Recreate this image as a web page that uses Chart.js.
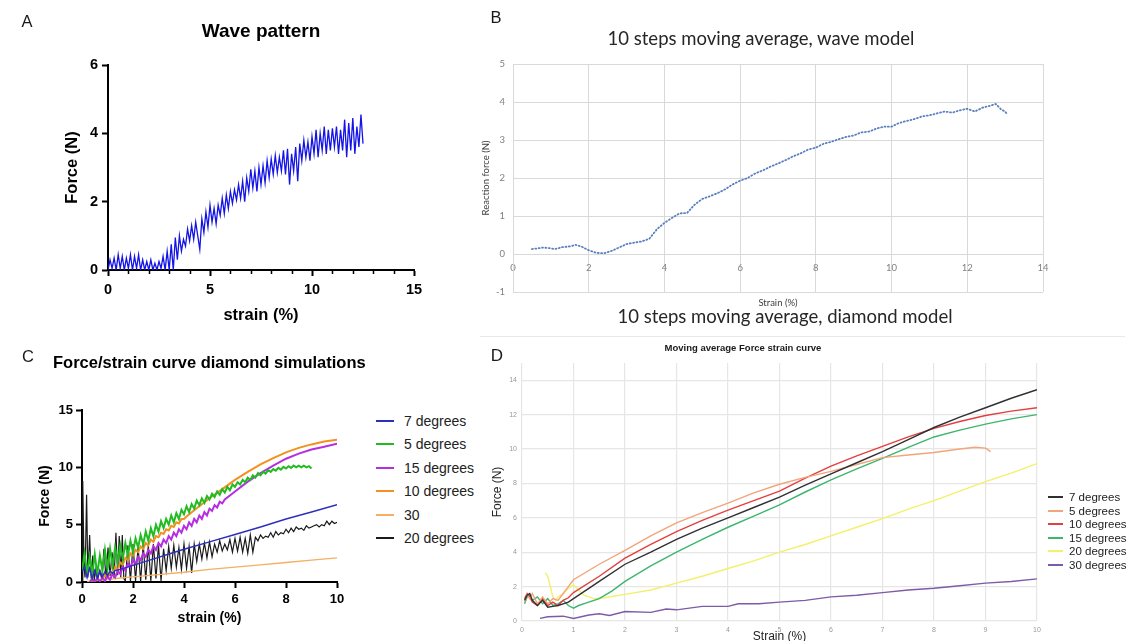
<!DOCTYPE html>
<html>
<head>
<meta charset="utf-8">
<title>Force / strain curves</title>
<script src="https://cdn.jsdelivr.net/npm/chart.js"></script>
<style>
  html, body { margin: 0; padding: 0; background: #fff; overflow: hidden; }
  #page { position: relative; width: 1132px; height: 641px; overflow: hidden; background: #fff; }
  canvas { position: absolute; }
  .txt { position: absolute; white-space: nowrap; transform: translate(-50%, -50%); color: #1a1a1a; }
  .left { transform: translate(0, -50%); }
  .letter { font: 16.5px "Liberation Sans", Arial, sans-serif; }
  .prism { font-family: "Liberation Sans", Arial, sans-serif; font-weight: bold; color: #000; }
  .excel { font-family: Lato, "Open Sans", sans-serif; color: #262626; }
  .legrow { position: absolute; height: 16px; display: flex; align-items: center; white-space: nowrap; }
  .legrow span.sw { display: inline-block; }
  .sep { position: absolute; left: 480px; top: 336px; width: 645px; border-top: 1px solid #e8e8e8; }
</style>
</head>
<body>
<div id="page">
  <canvas id="chartA" width="440" height="330" style="left:0;top:0"></canvas>
  <canvas id="chartB" width="652" height="300" style="left:480px;top:20px"></canvas>
  <canvas id="chartC" width="370" height="301" style="left:0;top:340px"></canvas>
  <canvas id="chartD" width="652" height="320" style="left:480px;top:340px"></canvas>

  <div class="txt letter" style="left:27px;top:21px">A</div>
  <div class="txt prism" style="left:261px;top:31px;font-size:19px">Wave pattern</div>

  <div class="txt letter" style="left:496px;top:17px">B</div>
  <div class="txt excel" style="left:761px;top:38px;font-size:18.5px">10 steps moving average, wave model</div>
  <div class="txt excel" style="left:785px;top:316px;font-size:18.5px">10 steps moving average, diamond model</div>
  <div class="sep"></div>

  <div class="txt letter" style="left:28px;top:356px">C</div>
  <div class="txt prism left" style="left:53px;top:362px;font-size:16.5px">Force/strain curve diamond simulations</div>

  <div class="txt letter" style="left:497px;top:356px;font-size:17px">D</div>
  <div class="txt" style="left:743px;top:347px;font:bold 9.5px 'Liberation Sans', Arial, sans-serif">Moving average Force strain curve</div>

  <div id="legendC"></div>
  <div id="legendD"></div>
</div>

<script>
// ---------- A: wave pattern, raw force ----------
const waveStrain = [
  0, 0.1, 0.2, 0.3, 0.4, 0.5, 0.6, 0.7, 0.8, 0.9,
  1, 1.1, 1.2, 1.3, 1.4, 1.5, 1.6, 1.7, 1.8, 1.9,
  2, 2.1, 2.2, 2.3, 2.4, 2.5, 2.6, 2.7, 2.8, 2.9,
  3, 3.1, 3.2, 3.3, 3.4, 3.5, 3.6, 3.7, 3.8, 3.9,
  4, 4.1, 4.2, 4.3, 4.4, 4.5, 4.6, 4.7, 4.8, 4.9,
  5, 5.1, 5.2, 5.3, 5.4, 5.5, 5.6, 5.7, 5.8, 5.9,
  6, 6.1, 6.2, 6.3, 6.4, 6.5, 6.6, 6.7, 6.8, 6.9,
  7, 7.1, 7.2, 7.3, 7.4, 7.5, 7.6, 7.7, 7.8, 7.9,
  8, 8.1, 8.2, 8.3, 8.4, 8.5, 8.6, 8.7, 8.8, 8.9,
  9, 9.1, 9.2, 9.3, 9.4, 9.5, 9.6, 9.7, 9.8, 9.9,
  10, 10.1, 10.2, 10.3, 10.4, 10.5, 10.6, 10.7, 10.8, 10.9,
  11, 11.1, 11.2, 11.3, 11.4, 11.5, 11.6, 11.7, 11.8, 11.9,
  12, 12.1, 12.2, 12.3, 12.4, 12.5
];
const waveForce = [
  0, 0.3, 0.05, 0.35, 0, 0.45, 0.05, 0.4, 0, 0.35,
  0.05, 0.45, 0, 0.4, 0.05, 0.45, 0, 0.3, 0, 0.25,
  0, 0.3, 0, 0.2, 0, 0.25, 0.05, 0.4, 0, 0.55,
  0, 0.75, 0, 0.95, 0.3, 1.0, 0.55, 0.9, 0.7, 1.2,
  0.85, 1.3, 0.9, 1.4, 1.0, 0.6, 1.5, 1.1, 1.7, 1.25,
  1.9, 1.4, 1.8, 1.35, 1.9, 1.6, 2.1, 1.65, 2.2, 1.8,
  2.3, 1.95, 2.35, 2.05, 2.5, 2.1, 2.6, 2.0, 2.7, 2.3,
  2.95, 2.4, 2.9, 2.3, 3.0, 2.5, 3.05, 2.55, 3.2, 2.7,
  3.25, 2.8, 3.35, 2.85, 3.3, 2.9, 3.5, 2.8, 3.55, 2.5,
  3.4, 2.9, 3.6, 2.6, 3.7, 3.2, 3.8, 3.3, 3.75, 3.2,
  3.9, 3.4, 4.1, 3.3, 4.0, 3.5, 4.2, 3.4, 4.1, 3.5,
  4.15, 3.6, 4.2, 3.4, 4.1, 3.5, 4.4, 3.3, 4.3, 3.5,
  4.45, 3.4, 4.2, 3.6, 4.55, 3.7
];
const waveMinorTicks = [1, 2, 3, 4, 6, 7, 8, 9, 11, 12, 13, 14];

// ---------- B: 10 step moving average, wave model ----------
const waveAvgStrain = [
  0.5, 0.6, 0.8, 1.0, 1.1, 1.3, 1.5, 1.65, 1.8, 2.0,
  2.2, 2.4, 2.6, 2.8, 3.0, 3.2, 3.4, 3.6, 3.8, 4.0,
  4.2, 4.4, 4.6, 4.8, 5.0, 5.2, 5.4, 5.6, 5.8, 6.0,
  6.2, 6.4, 6.6, 6.8, 7.0, 7.2, 7.4, 7.6, 7.8, 8.0,
  8.2, 8.4, 8.6, 8.8, 9.0, 9.2, 9.4, 9.6, 9.8, 10.0,
  10.2, 10.4, 10.6, 10.8, 11.0, 11.2, 11.4, 11.6, 11.8, 12.0,
  12.2, 12.4, 12.6, 12.75, 12.9, 13.0, 13.05
];
const waveAvgForce = [
  0.13, 0.14, 0.17, 0.15, 0.13, 0.18, 0.2, 0.24, 0.2, 0.1,
  0.03, 0.02, 0.08, 0.17, 0.26, 0.3, 0.33, 0.4, 0.65, 0.82,
  0.95, 1.07, 1.08, 1.3, 1.45, 1.52, 1.6, 1.7, 1.83, 1.93,
  2.0, 2.12, 2.2, 2.3, 2.38, 2.47, 2.57, 2.65, 2.75, 2.8,
  2.9, 2.95, 3.02, 3.08, 3.12, 3.2, 3.22, 3.3, 3.35, 3.35,
  3.45, 3.5, 3.55, 3.62, 3.65, 3.7, 3.75, 3.72, 3.78, 3.82,
  3.75, 3.85, 3.9, 3.95, 3.8, 3.75, 3.68
];

// ---------- C: diamond simulations ----------
const simLabels = ['7 degrees', '5 degrees', '15 degrees', '10 degrees', '30', '20 degrees'];
const simColors = ['#2e2ebf', '#22bb22', '#b52ee0', '#f4901e', '#f2b062', '#1a1a1a'];

const sim7Strain = [0, 0.1, 0.2, 0.3, 0.4, 0.5, 0.6, 0.7, 0.8, 0.9, 1.0, 1.1, 1.2, 1.3, 1.4, 1.5,
  2, 2.5, 3, 3.5, 4, 5, 6, 7, 8, 9, 10];
const sim7Force = [0.9, 1.3, 0.4, 1.2, 0.3, 1.0, 0.35, 0.95, 0.45, 0.9, 0.55, 0.95, 0.75, 1.0, 1.05, 1.1,
  1.45, 1.8, 2.15, 2.5, 2.85, 3.5, 4.15, 4.8, 5.5, 6.1, 6.75];

const sim5Strain = [
  0, 0.1, 0.2, 0.3, 0.4, 0.5, 0.6, 0.7, 0.8, 0.9,
  1, 1.1, 1.2, 1.3, 1.4, 1.5, 1.6, 1.7, 1.8, 1.9,
  2, 2.1, 2.2, 2.3, 2.4, 2.5, 2.6, 2.7, 2.8, 2.9,
  3, 3.1, 3.2, 3.3, 3.4, 3.5, 3.6, 3.7, 3.8, 3.9,
  4, 4.1, 4.2, 4.3, 4.4, 4.5, 4.6, 4.7, 4.8, 4.9,
  5, 5.1, 5.2, 5.3, 5.4, 5.5, 5.6, 5.7, 5.8, 5.9,
  6, 6.1, 6.2, 6.3, 6.4, 6.5, 6.6, 6.7, 6.8, 6.9,
  7, 7.1, 7.2, 7.3, 7.4, 7.5, 7.6, 7.7, 7.8, 7.9,
  8, 8.1, 8.2, 8.3, 8.4, 8.5, 8.6, 8.7, 8.8, 8.9,
  9
];
const sim5Force = [
  1.0, 2.5, 0.8, 2.2, 0.6, 2.4, 0.7, 2.3, 1.0, 2.8,
  1.1, 2.9, 1.4, 3.0, 1.7, 3.2, 2.0, 3.4, 2.3, 3.6,
  2.6, 3.8, 3.0, 4.1, 3.3, 4.4, 3.6, 4.7, 4.0, 5.0,
  4.4, 5.3, 4.7, 5.5, 5.0, 5.8, 5.2, 6.0, 5.5, 6.3,
  5.9, 6.6, 6.1, 6.8, 6.4, 7.1, 6.7, 7.3, 6.9, 7.5,
  7.2, 7.7, 7.4, 7.9, 7.6, 8.1, 7.8, 8.3, 8.0, 8.5,
  8.3, 8.7, 8.5, 8.9, 8.7, 9.1, 8.9, 9.3, 9.1, 9.5,
  9.3, 9.6, 9.45, 9.75, 9.6, 9.85, 9.7, 9.95, 9.8, 10.05,
  9.9, 10.1, 9.95, 10.15, 10.0, 10.15, 10.0, 10.15, 10.0, 10.1,
  9.9
];

const sim15Strain = [
  0.3, 0.4, 0.5, 0.6, 0.7, 0.8, 0.9, 1.0, 1.1, 1.2,
  1.3, 1.4, 1.5, 1.6, 1.7, 1.8, 1.9, 2.0, 2.1, 2.2,
  2.3, 2.4, 2.5, 2.6, 2.7, 2.8, 2.9, 3.0, 3.1, 3.2,
  3.3, 3.4, 3.5, 3.6, 3.7, 3.8, 3.9, 4.0, 4.1, 4.2,
  4.3, 4.4, 4.5, 4.6, 4.7, 4.8, 4.9, 5.0, 5.1, 5.2,
  5.3, 5.4, 5.5, 5.6, 5.8, 6, 6.5, 7, 7.5, 8,
  8.5, 9, 9.5, 10
];
const sim15Force = [
  0.0, 0.3, 0.0, 0.35, 0.05, 0.4, 0.1, 0.5, 0.2, 0.7,
  0.4, 1.0, 0.7, 1.3, 1.0, 1.6, 1.3, 1.9, 1.6, 2.2,
  1.9, 2.5, 2.2, 2.8, 2.5, 3.1, 2.8, 3.4, 3.1, 3.7,
  3.4, 4.0, 3.7, 4.3, 4.0, 4.6, 4.3, 4.9, 4.6, 5.2,
  4.9, 5.5, 5.2, 5.8, 5.5, 6.1, 5.8, 6.4, 6.2, 6.7,
  6.5, 7.0, 6.85, 7.2, 7.55, 7.9, 8.75, 9.5, 10.15, 10.75,
  11.2, 11.55, 11.8, 12.05
];

const sim10Strain = [
  0.8, 0.9, 1.0, 1.1, 1.2, 1.3, 1.4, 1.5, 1.6, 1.7,
  1.8, 1.9, 2.0, 2.1, 2.2, 2.3, 2.4, 2.5, 2.6, 2.7,
  2.8, 2.9, 3.0, 3.1, 3.2, 3.3, 3.4, 3.5, 3.6, 3.7,
  3.8, 3.9, 4.0, 4.2, 4.4, 4.6, 4.8, 5, 5.5, 6,
  6.5, 7, 7.5, 8, 8.5, 9, 9.5, 10
];
const sim10Force = [
  0.2, 0.6, 0.4, 0.9, 0.7, 1.3, 1.1, 1.7, 1.5, 2.1,
  1.9, 2.5, 2.3, 2.8, 2.6, 3.1, 2.9, 3.4, 3.2, 3.7,
  3.5, 4.0, 3.9, 4.3, 4.2, 4.6, 4.5, 4.9, 4.8, 5.2,
  5.1, 5.5, 5.5, 5.9, 6.25, 6.6, 6.95, 7.3, 8.1, 8.9,
  9.6, 10.25, 10.8, 11.3, 11.7, 12.0, 12.25, 12.4
];

const sim30Strain = [0.2, 0.5, 1, 1.5, 2, 3, 4, 5, 6, 7, 8, 9, 10];
const sim30Force = [0.05, 0.1, 0.2, 0.35, 0.45, 0.65, 0.85, 1.1, 1.3, 1.5, 1.7, 1.9, 2.1];

const sim20Strain = [
  0, 0.03, 0.08, 0.12, 0.18, 0.23, 0.3, 0.36, 0.42, 0.48,
  0.55, 0.62, 0.7, 0.78, 0.86, 0.94, 1.02, 1.1, 1.18, 1.26,
  1.33, 1.4, 1.46, 1.52, 1.58, 1.64,
  1.7, 1.8, 1.9, 2.0, 2.1, 2.2, 2.3, 2.4, 2.5, 2.6,
  2.7, 2.8, 2.9, 3.0, 3.1, 3.2, 3.3, 3.4, 3.5, 3.6,
  3.7, 3.8, 3.9, 4.0, 4.1, 4.2, 4.3, 4.4, 4.5, 4.6,
  4.7, 4.8, 4.9, 5.0, 5.1, 5.2, 5.3, 5.4, 5.5, 5.6,
  5.7, 5.8, 5.9, 6.0, 6.1, 6.2, 6.3, 6.4, 6.5, 6.6,
  6.7, 6.8, 6.9, 7.0, 7.1, 7.2, 7.3, 7.4, 7.5, 7.6,
  7.7, 7.8, 7.9, 8.0, 8.1, 8.2, 8.3, 8.4, 8.5, 8.6,
  8.7, 8.8, 8.9, 9.0, 9.1, 9.2, 9.3, 9.4, 9.5, 9.6,
  9.7, 9.8, 9.9, 10.0
];
const sim20Force = [
  0.1, 8.8, 1.3, 0.4, 7.6, 0.4, 4.1, 0.3, 2.3, 0.2,
  1.2, 0.3, 1.0, 0.2, 2.9, 0.3, 3.0, 0.5, 2.6, 0.3,
  4.3, 0.6, 4.0, 0.4, 4.1, 0.3,
  0.1, 3.2, 0.05, 3.3, 0.1, 3.1, 0.05, 3.3, 0.2, 3.2,
  0.1, 3.3, 0.3, 3.2, 0.1, 2.9, 1.0, 3.1, 1.2, 3.2,
  1.3, 3.0, 1.1, 3.3, 1.2, 3.1, 0.8, 3.3, 1.8, 3.3,
  2.0, 3.4, 2.1, 3.5, 2.2, 3.3, 2.6, 3.6, 2.7, 3.3,
  2.8, 3.7, 2.6, 3.8, 2.7, 3.9, 2.6, 3.8, 2.5, 4.1,
  2.6, 3.9, 3.6, 4.1, 3.8, 4.0, 3.9, 4.3, 3.9, 4.4,
  4.1, 4.3, 4.2, 4.6, 4.3, 4.7, 4.4, 4.8, 4.6, 4.7,
  4.5, 4.9, 4.7, 4.8, 4.9, 5.0, 4.8, 5.0, 4.9, 5.3,
  5.0, 5.3, 5.1, 5.2
];

// ---------- D: moving average, diamond model ----------
const avgLabels = ['7 degrees', '5 degrees', '10 degrees', '15 degrees', '20 degrees', '30 degrees'];
const avgColors = ['#303030', '#f2a57a', '#e2403f', '#3db56f', '#f3f06a', '#7d5ba6'];

const avgStrainA = [0.05, 0.1, 0.15, 0.2, 0.3, 0.4, 0.5, 0.6, 0.7, 0.8,
  0.9, 1.0, 1.5, 2, 2.5, 3, 3.5, 4, 4.5, 5,
  5.5, 6, 6.5, 7, 7.5, 8, 8.5, 9, 9.5, 10];
const avg7Force = [1.2, 1.5, 1.6, 1.2, 0.9, 1.2, 0.8, 0.85, 0.9, 1.0,
  1.1, 1.3, 2.3, 3.3, 4.0, 4.75, 5.4, 6.0, 6.6, 7.2,
  7.9, 8.55, 9.2, 9.85, 10.55, 11.25, 11.85, 12.4, 12.95, 13.45];
const avg10Force = [1.3, 1.6, 1.4, 1.1, 0.9, 1.3, 0.9, 1.1, 0.9, 1.2,
  1.35, 1.65, 2.6, 3.65, 4.45, 5.2, 5.85, 6.45, 7.0, 7.55,
  8.3, 9.0, 9.6, 10.15, 10.7, 11.2, 11.6, 11.95, 12.2, 12.4];

const avg5Strain = [0.05, 0.1, 0.15, 0.2, 0.3, 0.4, 0.5, 0.6, 0.7, 0.8,
  0.9, 1.0, 1.5, 2, 2.5, 3, 3.5, 4, 4.5, 5,
  5.5, 6, 6.5, 7, 7.5, 8, 8.5, 8.8, 9.0, 9.1];
const avg5Force = [1.1, 1.5, 1.3, 1.6, 1.0, 1.4, 1.0, 1.3, 1.2, 1.6,
  2.0, 2.4, 3.3, 4.1, 4.95, 5.7, 6.3, 6.85, 7.45, 7.95,
  8.35, 8.7, 9.1, 9.5, 9.65, 9.8, 10.0, 10.1, 10.05, 9.85];

const avg15Strain = [0.05, 0.1, 0.15, 0.2, 0.3, 0.4, 0.5, 0.6, 0.7, 0.8,
  0.9, 1.0, 1.1, 1.25, 1.5, 1.75, 2, 2.5, 3, 3.5,
  4, 4.5, 5, 5.5, 6, 6.5, 7, 7.5, 8, 8.5,
  9, 9.5, 10];
const avg15Force = [1.0, 1.4, 1.5, 1.2, 1.4, 1.0, 1.3, 0.9, 1.0, 1.2,
  0.9, 0.75, 0.9, 1.05, 1.3, 1.75, 2.3, 3.2, 4.0, 4.75,
  5.45, 6.1, 6.75, 7.5, 8.2, 8.85, 9.45, 10.1, 10.7, 11.1,
  11.45, 11.75, 12.0];

const avg20Strain = [0.45, 0.5, 0.55, 0.6, 0.65, 0.7, 0.8, 0.9, 1.0, 1.1,
  1.2, 1.4, 1.6, 1.8, 2.0, 2.5, 3, 3.5, 4, 4.5,
  5, 5.5, 6, 6.5, 7, 7.5, 8, 8.5, 9, 9.5,
  10];
const avg20Force = [2.8, 2.6, 2.0, 1.4, 1.2, 1.4, 1.6, 1.9, 2.1, 1.8,
  1.5, 1.3, 1.35, 1.45, 1.55, 1.8, 2.2, 2.6, 3.05, 3.5,
  4.0, 4.45, 4.95, 5.45, 5.95, 6.5, 7.0, 7.55, 8.1, 8.6,
  9.15];

const avg30Strain = [0.35, 0.5, 0.8, 1.0, 1.3, 1.5, 1.7, 2.0, 2.5, 2.8,
  3.0, 3.5, 4.0, 4.2, 4.6, 5, 5.5, 6, 6.5, 7,
  7.5, 8, 8.5, 9, 9.5, 10];
const avg30Force = [0.15, 0.25, 0.28, 0.15, 0.35, 0.42, 0.32, 0.55, 0.5, 0.7,
  0.65, 0.85, 0.85, 1.0, 1.0, 1.1, 1.2, 1.4, 1.5, 1.65,
  1.8, 1.9, 2.05, 2.2, 2.3, 2.45];

// ---------- helpers ----------
const ARIAL = "'Liberation Sans', Arial, sans-serif";
const LATO = "Lato, 'Open Sans', sans-serif";

Chart.defaults.animation = false;
Chart.defaults.responsive = false;
Chart.defaults.plugins.legend.display = false;
Chart.defaults.plugins.tooltip.enabled = false;
Chart.defaults.elements.point.radius = 0;
Chart.defaults.elements.line.tension = 0;

function xy(xs, ys) {
  return xs.map((x, i) => ({ x: x, y: ys[i] }));
}

function lineSet(label, xs, ys, color, width) {
  return { label: label, data: xy(xs, ys), borderColor: color, borderWidth: width, fill: false };
}

// GraphPad-like axis: black 2px line, outward ticks, bold labels
function prismAxis(min, max, step, title, tickSize, titleSize, fixed, titlePad, labelPad) {
  return {
    type: 'linear', min: min, max: max,
    ticks: { stepSize: step, color: '#000', padding: labelPad, font: { family: ARIAL, size: tickSize, weight: 'bold' } },
    grid: { drawOnChartArea: false, drawTicks: true, tickLength: 6, tickWidth: 2, tickColor: '#000' },
    border: { display: true, color: '#000', width: 2 },
    title: { display: true, text: title, color: '#000', padding: titlePad, font: { family: ARIAL, size: titleSize, weight: 'bold' } },
    afterFit: s => { if (s.isHorizontal()) s.height = fixed; else s.width = fixed; }
  };
}

const minorTickPlugin = {
  id: 'minorTicks',
  afterDraw(chart, args, opts) {
    if (!opts.values) return;
    const ctx = chart.ctx, sx = chart.scales.x, yb = chart.chartArea.bottom;
    ctx.save();
    ctx.strokeStyle = '#000';
    ctx.lineWidth = 1.5;
    opts.values.forEach(v => {
      const px = Math.round(sx.getPixelForValue(v)) + 0.5;
      ctx.beginPath();
      ctx.moveTo(px, yb);
      ctx.lineTo(px, yb + 4);
      ctx.stroke();
    });
    ctx.restore();
  }
};

function buildLegend(el, labels, colors, o) {
  labels.forEach((lab, i) => {
    const row = document.createElement('div');
    row.className = 'legrow';
    row.style.left = o.left + 'px';
    row.style.top = (o.top + i * o.step - 8) + 'px';
    row.style.font = o.font;
    row.style.color = o.color;
    const sw = document.createElement('span');
    sw.className = 'sw';
    sw.style.width = o.swatch + 'px';
    sw.style.height = o.lineWidth + 'px';
    sw.style.background = colors[i];
    sw.style.marginRight = o.gap + 'px';
    row.appendChild(sw);
    row.appendChild(document.createTextNode(lab));
    el.appendChild(row);
  });
}

// ---------- A ----------
new Chart(document.getElementById('chartA'), {
  type: 'line',
  data: { datasets: [lineSet('Wave pattern', waveStrain, waveForce, '#1414e6', 1.3)] },
  options: {
    layout: { padding: { left: 58, top: 65, right: 26, bottom: 1 } },
    scales: {
      x: prismAxis(0, 15, 5, 'strain (%)', 14.5, 16.5, 59, { top: 4, bottom: 4 }, 5),
      y: prismAxis(0, 6, 2, 'Force (N)', 14.5, 16.5, 50, { top: 5, bottom: 4 }, 4)
    },
    plugins: { minorTicks: { values: waveMinorTicks } }
  },
  plugins: [minorTickPlugin]
});

// ---------- B ----------
new Chart(document.getElementById('chartB'), {
  type: 'line',
  data: {
    datasets: [{
      label: 'Reaction force', data: xy(waveAvgStrain, waveAvgForce),
      borderColor: '#5a7fbf', borderWidth: 1.8, borderDash: [1, 2.4], borderCapStyle: 'round', fill: false
    }]
  },
  options: {
    layout: { padding: { left: 0, top: 44, right: 89, bottom: 28 } },
    scales: {
      x: {
        type: 'linear', position: { y: 0 }, min: 0, max: 14,
        ticks: { stepSize: 2, color: '#808080', padding: 8, font: { family: LATO, size: 9.5 } },
        grid: { color: '#d9d9d9', drawTicks: false },
        border: { color: '#d9d9d9' },
        title: { display: true, text: 'Strain (%)', color: '#404040', padding: { top: 0, bottom: 0 }, font: { family: LATO, size: 9.5 } },
        afterFit: s => { s.height = 55; }
      },
      y: {
        type: 'linear', min: -1, max: 5,
        ticks: { stepSize: 1, color: '#808080', padding: 8, font: { family: LATO, size: 9.5 } },
        grid: { color: '#d9d9d9', drawTicks: false },
        border: { color: '#d9d9d9' },
        title: { display: true, text: 'Reaction force (N)', color: '#404040', padding: { top: 0, bottom: 0 }, font: { family: LATO, size: 9.5 } },
        afterFit: s => { s.width = 33; }
      }
    }
  }
});

// ---------- C ----------
const simStrains = [sim7Strain, sim5Strain, sim15Strain, sim10Strain, sim30Strain, sim20Strain];
const simForces = [sim7Force, sim5Force, sim15Force, sim10Force, sim30Force, sim20Force];
const simWidths = [1.5, 2, 2, 2, 1.3, 1.2];

new Chart(document.getElementById('chartC'), {
  type: 'line',
  data: { datasets: simLabels.map((lab, i) => lineSet(lab, simStrains[i], simForces[i], simColors[i], simWidths[i])) },
  options: {
    layout: { padding: { left: 35, top: 70, right: 33, bottom: 10 } },
    scales: {
      x: prismAxis(0, 10, 2, 'strain (%)', 13, 14, 49, { top: 4, bottom: 4 }, 4),
      y: prismAxis(0, 15, 5, 'Force (N)', 13, 14, 47, { top: 1.5, bottom: 4 }, 3)
    }
  }
});

buildLegend(document.getElementById('legendC'), simLabels, simColors, {
  left: 376, top: 421, step: 23.4, swatch: 18, gap: 10, lineWidth: 2,
  font: '14px ' + ARIAL, color: '#222'
});

// ---------- D ----------
const avgStrains = [avgStrainA, avg5Strain, avgStrainA, avg15Strain, avg20Strain, avg30Strain];
const avgForces = [avg7Force, avg5Force, avg10Force, avg15Force, avg20Force, avg30Force];

new Chart(document.getElementById('chartD'), {
  type: 'line',
  data: { datasets: avgLabels.map((lab, i) => lineSet(lab, avgStrains[i], avgForces[i], avgColors[i], 1.4)) },
  options: {
    layout: { padding: { left: 8, top: 23, right: 95, bottom: 12 } },
    scales: {
      x: {
        type: 'linear', min: 0, max: 10,
        ticks: { stepSize: 1, color: '#999', padding: 5, font: { family: ARIAL, size: 7 } },
        grid: { color: '#e6e6e6', lineWidth: 1.2, drawTicks: false },
        border: { display: false },
        title: { display: true, text: 'Strain (%)', color: '#222', padding: { top: 4, bottom: 4 }, font: { family: ARIAL, size: 12 } },
        afterFit: s => { s.height = 27; }
      },
      y: {
        type: 'linear', min: 0, max: 15,
        ticks: { stepSize: 1, color: '#999', padding: 5, font: { family: ARIAL, size: 7 } },
        afterBuildTicks: s => { s.ticks = s.ticks.filter(t => t.value % 2 === 0); },
        grid: { color: '#e6e6e6', lineWidth: 1.2, drawTicks: false },
        border: { display: false },
        title: { display: true, text: 'Force (N)', color: '#222', padding: { top: 2, bottom: 2 }, font: { family: ARIAL, size: 12 } },
        afterFit: s => { s.width = 34; }
      }
    }
  }
});

buildLegend(document.getElementById('legendD'), avgLabels, avgColors, {
  left: 1048, top: 497, step: 13.6, swatch: 15, gap: 6, lineWidth: 2,
  font: '11.5px ' + ARIAL, color: '#222'
});
</script>
</body>
</html>
